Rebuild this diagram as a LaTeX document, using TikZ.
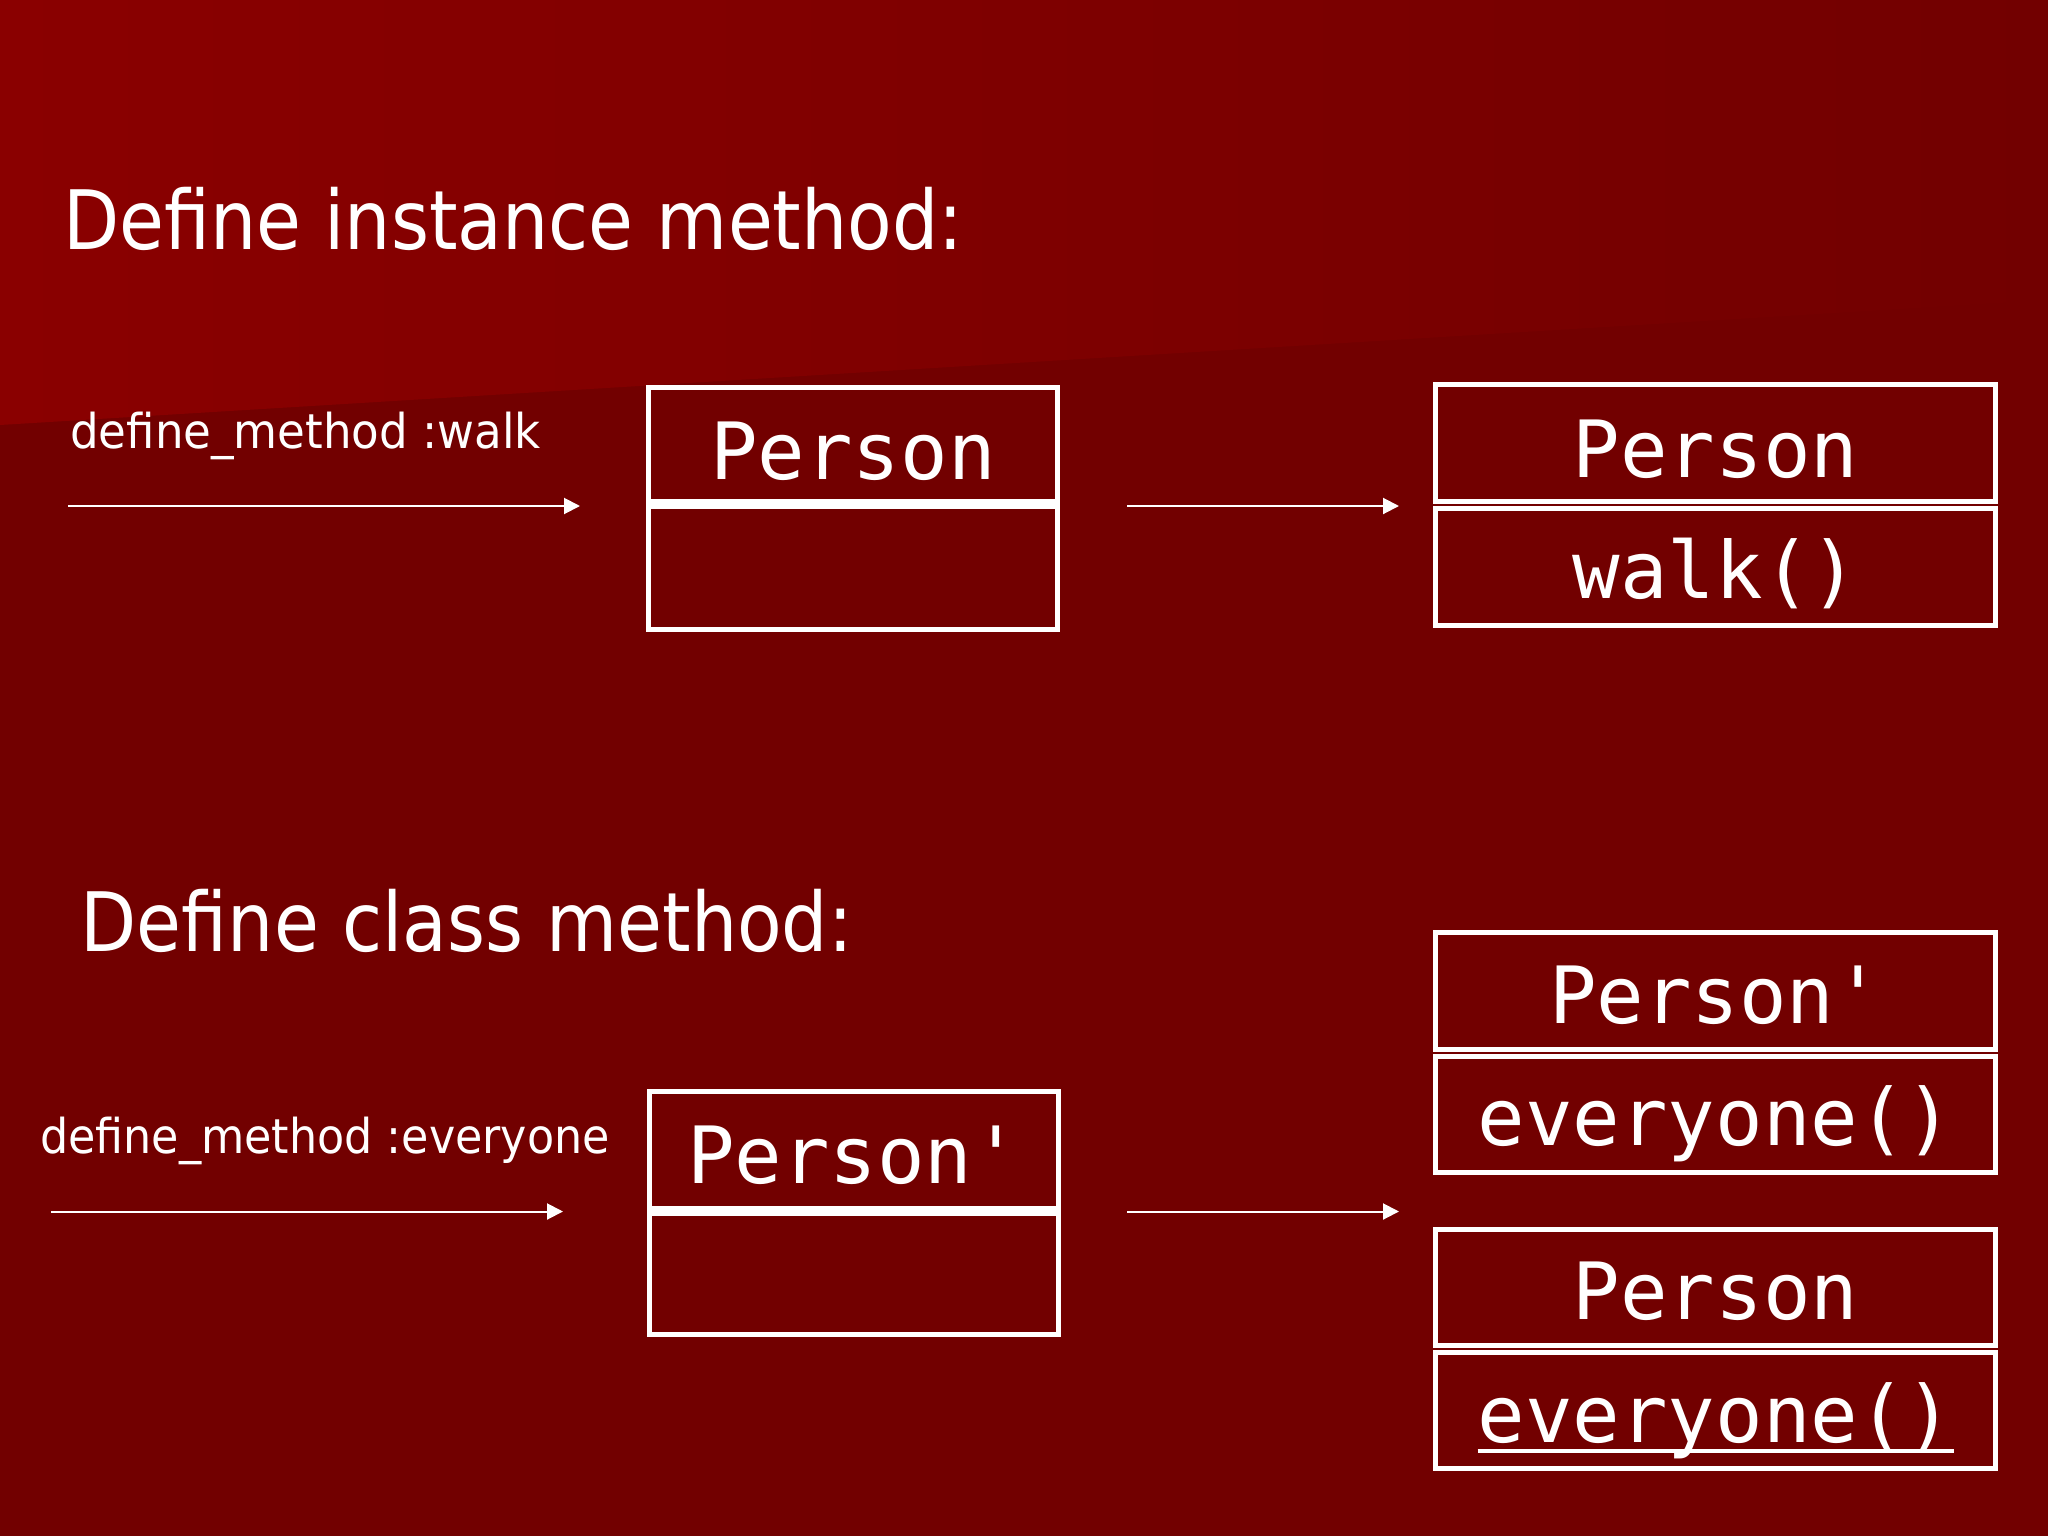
\documentclass[tikz,border=0pt]{standalone}
\usepackage{fontspec}
\usetikzlibrary{arrows.meta}
\newfontfamily\tahtitle[FakeStretch=0.89]{DejaVu Sans}
\newfontfamily\tahlabel[FakeStretch=0.94]{DejaVu Sans}
\newfontfamily\tahlabelb[FakeStretch=0.925]{DejaVu Sans}
\newfontfamily\monofnt{DejaVu Sans Mono}
\definecolor{bgmain}{HTML}{720000}
\definecolor{bglight}{HTML}{8A0000}
\tikzset{
  titletext/.style={text=white, inner sep=0pt, anchor=base west, font=\tahtitle\fontsize{82}{98}\selectfont},
  labeltext/.style={text=white, inner sep=0pt, anchor=base west, font=\tahlabel\fontsize{48}{58}\selectfont},
  labeltextb/.style={text=white, inner sep=0pt, anchor=base west, font=\tahlabelb\fontsize{48}{58}\selectfont},
  codetext/.style={text=white, inner sep=0pt, anchor=base, font=\monofnt\fontsize{79}{95}\selectfont},
  comp/.style={draw=white, line width=5pt, inner sep=0pt, outer sep=0pt},
  leftcomp/.style={comp, minimum width=409pt},
  rightcomp/.style={comp, minimum width=560pt},
  flow/.style={draw=white, line width=2pt, -{Triangle[length=16pt,width=16pt]}}
}
\begin{document}
\begin{tikzpicture}[x=1pt,y=-1pt]
\useasboundingbox (0,0) rectangle (2048,1536);
\fill[bgmain] (0,0) rectangle (2048,1536);
\shade[left color=bglight, right color=bgmain] (0,0) -- (2048,0) -- (2048,300) -- (0,425) -- cycle;

% titles and labels
\node[titletext] (title1) at (63,249) {Define instance method:};
\node[titletext] (title2) at (80.5,951) {Define class method:};
\node[labeltext] (lab1) at (70,448) {define\_method :walk};
\node[labeltextb] (lab2) at (40,1153) {define\_method :everyone};

% left boxes
\node[leftcomp, minimum height=114pt] (lb1top) at (853,444.5) {};
\node[leftcomp, minimum height=123pt] (lb1bot) at (853,568) {};
\node[codetext] (lb1name) at (853,479) {Person};

\node[leftcomp, minimum height=117pt] (lb2top) at (853.5,1150) {};
\node[leftcomp, minimum height=121pt] (lb2bot) at (853.5,1274) {};
\node[codetext] (lb2name) at (853.5,1183) {Person'};

% right boxes
\node[rightcomp, minimum height=117pt] (rwtop) at (1715.5,443) {};
\node[rightcomp, minimum height=117pt] (rwbot) at (1715.5,567) {};
\node[codetext] (rwname) at (1715.5,477) {Person};
\node[codetext] (rwmeth) at (1715.5,598) {walk()};

\node[rightcomp, minimum height=117pt] (rptop) at (1715.5,991) {};
\node[rightcomp, minimum height=116pt] (rpbot) at (1715.5,1114.5) {};
\node[codetext] (rpname) at (1715.5,1023) {Person'};
\node[codetext] (rpmeth) at (1715.5,1145) {everyone()};

\node[rightcomp, minimum height=116pt] (rctop) at (1715.5,1287.5) {};
\node[rightcomp, minimum height=116pt] (rcbot) at (1715.5,1410.5) {};
\node[codetext] (rcname) at (1715.5,1319.5) {Person};
\node[codetext] (rcmeth) at (1715.5,1442) {everyone()};
\draw[white, line width=4pt] ([yshift=-8.6pt]rcmeth.base west) -- ([yshift=-8.6pt]rcmeth.base east);

% arrows
\coordinate (a1s) at (68,506);
\coordinate (a1e) at (580,506);
\coordinate (a2s) at (1127,506);
\coordinate (a2e) at (1399,506);
\coordinate (a3s) at (51,1211.5);
\coordinate (a3e) at (563,1211.5);
\coordinate (a4s) at (1127,1211.5);
\coordinate (a4e) at (1399,1211.5);
\draw[flow] (a1s) -- (a1e);
\draw[flow] (a2s) -- (a2e);
\draw[flow] (a3s) -- (a3e);
\draw[flow] (a4s) -- (a4e);
\end{tikzpicture}
\end{document}
